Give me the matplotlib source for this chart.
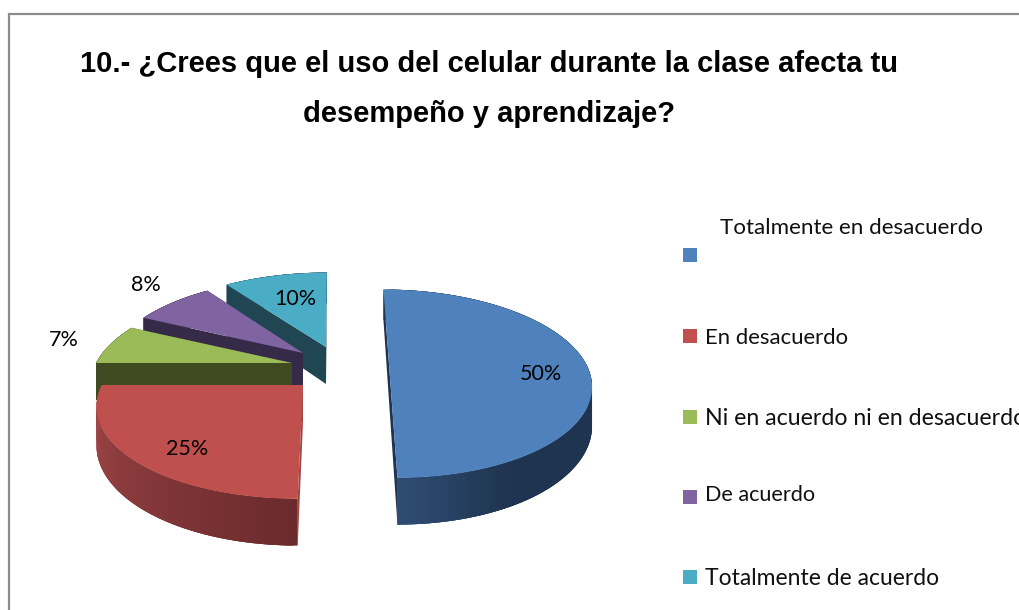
import matplotlib
matplotlib.use('Agg')
import matplotlib.pyplot as plt
import numpy as np

categories = ['Totalmente en desacuerdo', 'En desacuerdo', 'Ni en acuerdo ni en desacuerdo',
              'De acuerdo', 'Totalmente de acuerdo']
values = [50, 25, 7, 8, 10]
percent_labels = ['50%', '25%', '7%', '8%', '10%']
title_lines = ['10.- ¿Crees que el uso del celular durante la clase afecta tu',
               'desempeño y aprendizaje?']

# colours per slice
top_colors = ['#4F81BD', '#C0504D', '#9BBB59', '#8064A2', '#4BACC6']
side_start = ['#1F3450', '#6B2A2C', '#3F4A20', '#352A47', '#1F4652']
side_end = ['#2E4C72', '#A5494A', '#3F4A20', '#352A47', '#1F4652']
side_cut = ['#1F3450', '#A04440', '#3F4A20', '#352A47', '#1F4652']
# exploded positions of the slice tips, in pixels
tip_x = [389, 303, 292, 303, 326]
tip_y = [364, 385, 363, 353, 347]
lean = [32, -20, -30, -10, -5]
slice_rx = [197, 201, 196, 193, 199]
label_x = [541, 187, 64, 146, 295]
label_y = [374, 449, 340, 285, 299]
legend_y = [255, 336, 417, 497, 577]
legend_size = [16.1, 15.9, 16.7, 15.6, 16.5]

RY, PERSP, DEPTH = 90, 0.209, 37


def project(i, r, theta, depth=0.0):
    '''theta in degrees clockwise from the top, returns pixel x, y'''
    t = np.radians(theta)
    wx = r * np.sin(t)
    wy = -r * np.cos(t)
    s = 1 / (1 - PERSP * wy)
    x = tip_x[i] + (lean[i] + slice_rx[i] * wx) * s - lean[i]
    y = tip_y[i] + (RY * wy + depth) * s
    return x, y


def blend(c1, c2, f):
    a = np.array(matplotlib.colors.to_rgb(c1))
    b = np.array(matplotlib.colors.to_rgb(c2))
    return tuple(a + (b - a) * f)


fig = plt.figure(figsize=(10.2, 6.1), dpi=100)
ax = fig.add_axes([0, 0, 1, 1])
ax.set_xlim(0, 1020)
ax.set_ylim(610, 0)
ax.axis('off')

# chart frame, runs off right and bottom
ax.plot([9.5, 9.5, 1020], [610, 13.5, 13.5], color='#8C8C8C', lw=1.6, solid_joinstyle='miter')

edges = np.concatenate([[0], np.cumsum(values)]) * 3.6
# painter's order, back slices first
for i in [4, 3, 2, 1, 0]:
    a0, a1 = edges[i], edges[i + 1]
    th = np.linspace(a0, a1, 121)

    # cut faces
    for a in (a0, a1):
        ox, oy = project(i, 1, a)
        bx, by = project(i, 1, a, DEPTH)
        tx, ty = project(i, 0, a)
        ax.fill([tx, ox, bx, tx], [ty, oy, by, ty + DEPTH], color=side_cut[i], lw=0)

    # outer wall as strips that overlap the next one, so no seams show
    for j in range(len(th) - 1):
        end = min(j + 4, len(th))
        x0, y0 = project(i, 1, th[j:end])
        x1, y1 = project(i, 1, th[j:end], DEPTH)
        f = j / (len(th) - 2)
        if i == 0:
            f = max(0, (f - 0.85) / 0.15)
        col = blend(side_start[i], side_end[i], f)
        ax.fill(np.r_[x0, x1[::-1]], np.r_[y0, y1[::-1]], facecolor=col, edgecolor='none', lw=0)

    # top face
    x, y = project(i, 1, th)
    ax.fill(np.r_[tip_x[i], x], np.r_[tip_y[i], y], color=top_colors[i], lw=0)

for i, lab in enumerate(percent_labels):
    ax.text(label_x[i], label_y[i], lab, ha='center', va='center', fontsize=15.5,
            family='Lato', color='black')

ax.text(489.5, 64.5, title_lines[0], ha='center', va='center', fontsize=21,
        family='Liberation Sans', fontweight='bold', color='black')
ax.text(489.5, 113.5, title_lines[1], ha='center', va='center', fontsize=21,
        family='Liberation Sans', fontweight='bold', color='black')

# legend
for i, cat in enumerate(categories):
    ax.scatter([690.5], [legend_y[i]], marker='s', s=108, color=top_colors[i], linewidths=0)
    if i == 0:
        ax.text(852, 228, cat, ha='center', va='center', fontsize=legend_size[i], family='Lato', color='#111111')
    else:
        ty = legend_y[i] + 1.5 if i != 3 else legend_y[i] - 2
        ax.text(705, ty, cat, ha='left', va='center', fontsize=legend_size[i], family='Lato',
                color='#111111', clip_on=True)

fig.savefig('out.png', dpi=100, facecolor='white')
